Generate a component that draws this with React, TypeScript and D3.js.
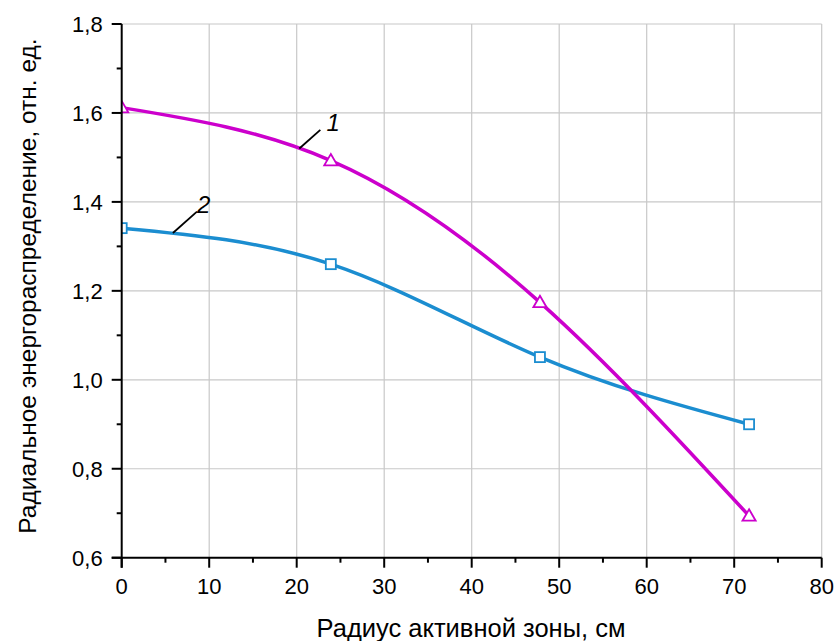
import React, { useEffect } from "react";
import * as d3 from "d3";

const radius1 = [0, 23.9, 47.8, 71.7];
const values1 = [1.612, 1.493, 1.174, 0.694];
const radius2 = [0, 23.9, 47.8, 71.7];
const values2 = [1.341, 1.26, 1.051, 0.9];
const xTicks = [0, 10, 20, 30, 40, 50, 60, 70, 80];
const yTicks = [0.6, 0.8, 1.0, 1.2, 1.4, 1.6, 1.8];
const xTitle = "Радиус активной зоны, см";
const yTitle = "Радиальное энергораспределение, отн. ед.";
// annotation: label, leader start (x,y), leader end (x,y), text pos (x,y)
const annLabels = ["1", "2"];
const annLeaderFrom = [[20.3, 1.52], [5.85, 1.33]];
const annLeaderTo = [[22.7, 1.562], [8.6, 1.378]];
const annTextPos = [[23.4, 1.559], [8.6, 1.375]];

const W = 836, H = 641;
const M = { left: 121.7, right: 836 - 821.7, top: 24, bottom: 641 - 557.7 };
const C1 = "#CC00CC";
const C2 = "#1B8DD0";
const FONT = "'Liberation Sans', Arial, sans-serif";

export default function App() {
  useEffect(() => { document.body.style.margin = "0"; }, []);
  const x = d3.scaleLinear().domain([0, 80]).range([M.left, W - M.right]);
  const y = d3.scaleLinear().domain([0.6, 1.8]).range([H - M.bottom, M.top]);
  const line = d3.line<[number, number]>().x(d => x(d[0])).y(d => y(d[1])).curve(d3.curveNatural);
  const s1 = radius1.map((r, i) => [r, values1[i]] as [number, number]);
  const s2 = radius2.map((r, i) => [r, values2[i]] as [number, number]);
  const minorX = d3.range(5, 80, 10);
  const minorY = d3.range(0.7, 1.8, 0.2);
  const tri = d3.symbol().type(d3.symbolTriangle).size(75)();
  const x0 = x(0), y0 = y(0.6);
  return (
    <svg width={W} height={H} style={{ display: "block", background: "#fff" }} fontFamily={FONT}>
      <defs>
        <clipPath id="plot">
          <rect x={x(0)} y={y(1.8)} width={x(80) - x(0)} height={y(0.6) - y(1.8)} />
        </clipPath>
      </defs>
      {xTicks.slice(1).map(t => (
        <line key={"gx" + t} x1={x(t)} x2={x(t)} y1={y(0.6)} y2={y(1.8)} stroke="#c8c8c8" strokeWidth={1.2} />
      ))}
      {yTicks.slice(1).map(t => (
        <line key={"gy" + t} x1={x(0)} x2={x(80)} y1={y(t)} y2={y(t)} stroke="#c8c8c8" strokeWidth={1.2} />
      ))}
      <g clipPath="url(#plot)">
        <path d={line(s2) || ""} fill="none" stroke={C2} strokeWidth={3.5} />
        <path d={line(s1) || ""} fill="none" stroke={C1} strokeWidth={3.5} />
        {s2.map((d, i) => (
          <rect key={"m2" + i} x={x(d[0]) - 5} y={y(d[1]) - 5} width={10} height={10} fill="#fff" stroke={C2} strokeWidth={1.8} />
        ))}
        {s1.map((d, i) => (
          <path key={"m1" + i} d={tri || ""} transform={`translate(${x(d[0])},${y(d[1]) + 1})`} fill="#fff" stroke={C1} strokeWidth={1.8} />
        ))}
      </g>
      {/* axes */}
      <line x1={x0} x2={x0} y1={y(1.8)} y2={y0 + 10} stroke="#000" strokeWidth={2} />
      <line x1={x0 - 10} x2={x(80)} y1={y0} y2={y0} stroke="#000" strokeWidth={2} />
      {xTicks.map(t => (
        <g key={"tx" + t}>
          <line x1={x(t)} x2={x(t)} y1={y0} y2={y0 + 10} stroke="#000" strokeWidth={2} />
          <text x={x(t)} y={y0 + 36} textAnchor="middle" fontSize={22}>{t}</text>
        </g>
      ))}
      {minorX.map(t => (
        <line key={"mx" + t} x1={x(t)} x2={x(t)} y1={y0} y2={y0 + 5} stroke="#000" strokeWidth={2} />
      ))}
      {yTicks.map(t => (
        <g key={"ty" + t}>
          <line x1={x0 - 10} x2={x0} y1={y(t)} y2={y(t)} stroke="#000" strokeWidth={2} />
          <text x={x0 - 19} y={y(t) + 8} textAnchor="end" fontSize={22}>{d3.format(".1f")(t).replace(".", ",")}</text>
        </g>
      ))}
      {minorY.map(t => (
        <line key={"my" + t} x1={x0 - 5} x2={x0} y1={y(t)} y2={y(t)} stroke="#000" strokeWidth={2} />
      ))}
      {annLabels.map((l, i) => (
        <g key={"a" + i}>
          <line x1={x(annLeaderFrom[i][0])} y1={y(annLeaderFrom[i][1])} x2={x(annLeaderTo[i][0])} y2={y(annLeaderTo[i][1])} stroke="#000" strokeWidth={1.8} />
          <text x={x(annTextPos[i][0])} y={y(annTextPos[i][1])} fontSize={24} fontStyle="italic">{l}</text>
        </g>
      ))}
      <text x={471} y={637} textAnchor="middle" fontSize={25.5}>{xTitle}</text>
      <text transform={`translate(36,286) rotate(-90)`} textAnchor="middle" fontSize={24.5}>{yTitle}</text>
    </svg>
  );
}
